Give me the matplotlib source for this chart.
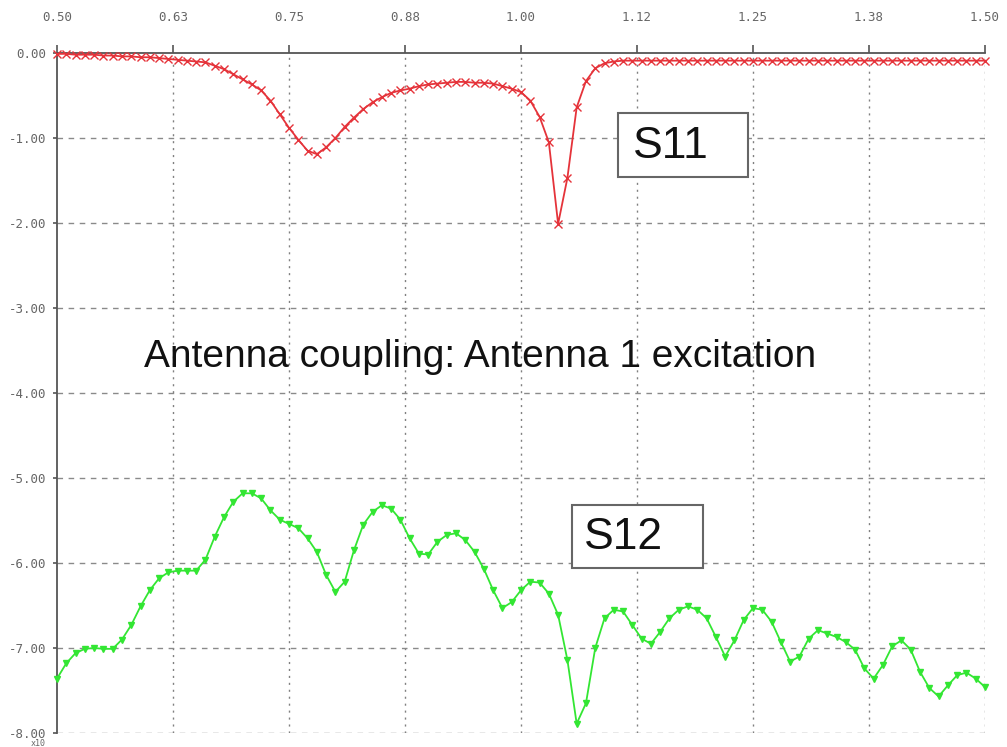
import numpy as np
import matplotlib
matplotlib.use("Agg")
import matplotlib.pyplot as plt
from matplotlib.patches import Rectangle

# ---- data ----
freq = [round(0.50 + 0.01 * i, 2) for i in range(101)]

s11 = [-0.01, -0.01, -0.02, -0.02, -0.02, -0.03, -0.03, -0.04, -0.04, -0.05,
       -0.05, -0.06, -0.07, -0.08, -0.09, -0.10, -0.11, -0.15, -0.19, -0.25,
       -0.31, -0.37, -0.44, -0.56, -0.72, -0.88, -1.02, -1.15, -1.19, -1.11,
       -1.00, -0.87, -0.76, -0.66, -0.58, -0.52, -0.47, -0.44, -0.42, -0.39,
       -0.37, -0.36, -0.35, -0.34, -0.34, -0.35, -0.35, -0.36, -0.39, -0.42,
       -0.46, -0.56, -0.75, -1.05, -2.01, -1.47, -0.64, -0.33, -0.18, -0.12,
       -0.10, -0.09, -0.09, -0.09, -0.09, -0.09, -0.09, -0.09, -0.09, -0.09,
       -0.09, -0.09, -0.09, -0.09, -0.09, -0.09, -0.09, -0.09, -0.09, -0.09,
       -0.09, -0.09, -0.09, -0.09, -0.09, -0.09, -0.09, -0.09, -0.09, -0.09,
       -0.09, -0.09, -0.09, -0.09, -0.09, -0.09, -0.09, -0.09, -0.09, -0.09,
       -0.09]

s12 = [-7.36, -7.18, -7.06, -7.01, -7.00, -7.01, -7.01, -6.90, -6.73, -6.51,
       -6.32, -6.18, -6.11, -6.09, -6.09, -6.09, -5.96, -5.69, -5.46, -5.28,
       -5.18, -5.18, -5.24, -5.38, -5.49, -5.54, -5.59, -5.71, -5.87, -6.14,
       -6.34, -6.22, -5.85, -5.55, -5.40, -5.32, -5.36, -5.49, -5.71, -5.89,
       -5.90, -5.75, -5.67, -5.65, -5.73, -5.87, -6.07, -6.32, -6.53, -6.46,
       -6.32, -6.22, -6.23, -6.36, -6.61, -7.14, -7.89, -7.65, -7.00, -6.65,
       -6.55, -6.57, -6.73, -6.89, -6.95, -6.81, -6.65, -6.55, -6.51, -6.55,
       -6.65, -6.87, -7.10, -6.91, -6.67, -6.53, -6.55, -6.69, -6.93, -7.16,
       -7.10, -6.89, -6.79, -6.83, -6.87, -6.93, -7.02, -7.24, -7.36, -7.20,
       -6.98, -6.91, -7.02, -7.28, -7.47, -7.57, -7.44, -7.32, -7.29, -7.36,
       -7.46]

xticks = [0.5, 0.625, 0.75, 0.875, 1.0, 1.125, 1.25, 1.375, 1.5]
xtick_labels = ["0.50", "0.63", "0.75", "0.88", "1.00", "1.12", "1.25", "1.38", "1.50"]
yticks = [0, -1, -2, -3, -4, -5, -6, -7, -8]
ytick_labels = ["0.00", "-1.00", "-2.00", "-3.00", "-4.00", "-5.00", "-6.00", "-7.00", "-8.00"]

title_text = "Antenna coupling: Antenna 1 excitation"

# ---- figure ----
fig = plt.figure(figsize=(10.07, 7.47), dpi=100)
ax = fig.add_axes([57/1007, 1 - 733/747, (985-57)/1007, (733-53)/747])

ax.set_xlim(0.5, 1.5)
ax.set_ylim(-8, 0)

# grid
for xv in xticks[1:]:
    ax.axvline(xv, color="#808080", lw=1.0, ls=(0, (1.5, 3.5)), zorder=1)
for yv in yticks[1:]:
    ax.axhline(yv, color="#8a8a8a", lw=1.0, ls=(0, (4, 4)), zorder=1)

ax.plot(freq, s11, color="#e5333a", lw=1.3, marker="x", ms=5.5, mew=1.0, clip_on=False, zorder=3)
ax.plot(freq, s12, color="#33e633", lw=1.3, marker="v", ms=4.5, mew=1.0, clip_on=False, zorder=3)

# spines
for s in ["bottom", "right"]:
    ax.spines[s].set_visible(False)
for s in ["top", "left"]:
    ax.spines[s].set_color("#555555")
    ax.spines[s].set_linewidth(1.3)

ax.xaxis.tick_top()
ax.set_xticks(xticks)
ax.set_xticklabels(xtick_labels)
ax.set_yticks(yticks)
ax.set_yticklabels(ytick_labels)
ax.tick_params(axis="x", direction="out", length=6, width=1.2, color="#555555",
               pad=15, labelsize=9, labelcolor="#666666")
ax.tick_params(axis="y", direction="out", length=3, width=1.2, color="#555555",
               pad=5, labelsize=9, labelcolor="#666666")
for lab in ax.get_xticklabels() + ax.get_yticklabels():
    lab.set_family("DejaVu Sans Mono")

ax.text(-0.02, -0.0158, "x10", transform=ax.transAxes, fontsize=6,
        family="DejaVu Sans Mono", color="#666666", ha="center", va="center")

# annotation boxes
ax.add_patch(Rectangle((1.1045, -1.459), 0.1401, 0.753, fill=True, fc="white",
                       ec="#666666", lw=1.5, zorder=4))
ax.text(1.121, -1.10, "S11", fontsize=32, family="Liberation Sans",
        ha="left", va="center", color="#111111", zorder=5)

ax.add_patch(Rectangle((1.055, -6.059), 0.141, 0.741, fill=True, fc="white",
                       ec="#666666", lw=1.5, zorder=4))
ax.text(1.068, -5.70, "S12", fontsize=32, family="Liberation Sans",
        ha="left", va="center", color="#111111", zorder=5)

ax.text(0.956, -3.58, title_text, fontsize=28, family="Liberation Sans",
        ha="center", va="center", color="#111111", zorder=5)

fig.savefig("out.png", dpi=100)
